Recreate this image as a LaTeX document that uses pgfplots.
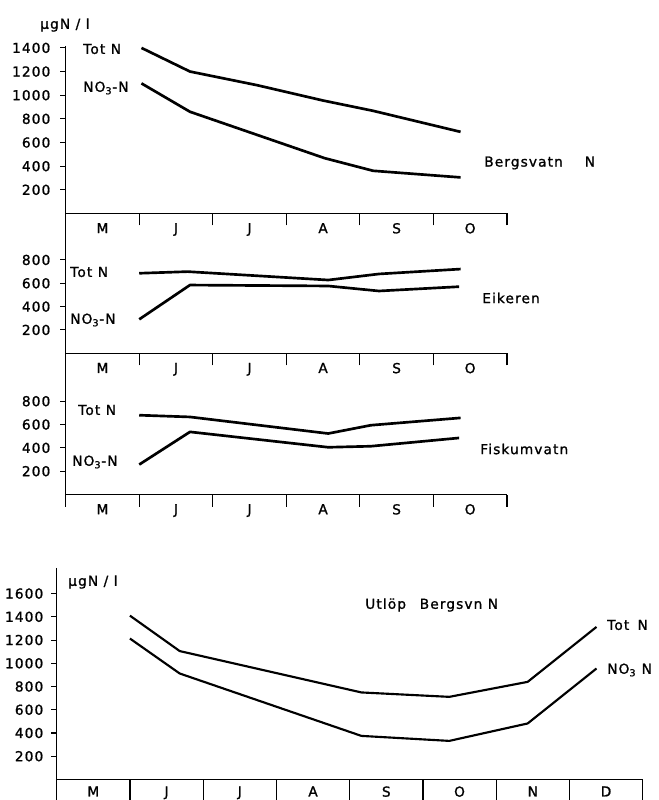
\documentclass[border=0pt]{standalone}
\usepackage{fontspec}
\setmainfont{DejaVu Sans}[LetterSpace=8, FakeBold=1.2]
\usepackage{pgfplots}
\pgfplotsset{compat=1.18}
\pgfplotsset{
  panel/.style={
    scale only axis, anchor=south west,
    xmin=0, ymin=0,
    axis lines=left, axis line style={-, line width=0.9pt},
    tick align=outside,
    major tick length=4pt, minor tick length=9pt,
    major x tick style={draw=none},
    minor x tick style={line width=0.9pt, black},
    y tick style={line width=0.8pt, black},
    tick label style={font=\fontsize{10.3}{12}\selectfont},
    /pgf/number format/assume math mode=true,
    /pgf/number format/1000 sep={},
    xticklabel style={yshift=0.3pt},
    yticklabel style={xshift=-4pt},
    clip=false,
  },
  dline/.style={black, line width=2pt, line join=round},
}
\begin{document}
\begin{tikzpicture}
\useasboundingbox (0,0) rectangle (494.25pt,600pt);

% Bergsvatn
\begin{axis}[panel, at={(49.28pt,439.88pt)}, width=330.9pt, height=124.2pt,
  xmax=6, ymax=1400,
  xtick={0.5,1.5,2.5,3.5,4.5,5.5}, xticklabels={M,J,J,A,S,O},
  minor xtick={1,2,3,4,5,6}, ytick={200,400,600,800,1000,1200,1400}]
\addplot[dline] coordinates {(1.03,1400) (1.69,1200) (2.6,1085) (3.5,955) (4.18,868) (5.37,690)};
\addplot[dline] coordinates {(1.03,1100) (1.69,860) (3.52,468) (4.18,361) (5.37,305)};
\end{axis}

% Eikeren
\begin{axis}[panel, at={(49.28pt,335.03pt)}, width=330.9pt, height=70.0pt,
  xmax=6, ymax=800,
  xtick={0.5,1.5,2.5,3.5,4.5,5.5}, xticklabels={M,J,J,A,S,O},
  minor xtick={1,2,3,4,5,6}, ytick={200,400,600,800}]
\addplot[dline] coordinates {(1.0,686) (1.66,700) (3.57,628) (4.26,680) (5.37,722)};
\addplot[dline] coordinates {(1.0,291) (1.69,585) (3.57,577) (4.26,534) (5.35,571)};
\end{axis}

% Fiskumvatn
\begin{axis}[panel, at={(49.28pt,229.1pt)}, width=330.9pt, height=70.0pt,
  xmax=6, ymax=800,
  xtick={0.5,1.5,2.5,3.5,4.5,5.5}, xticklabels={M,J,J,A,S,O},
  minor xtick={1,2,3,4,5,6}, ytick={200,400,600,800}]
\addplot[dline] coordinates {(1.0,680) (1.69,665) (3.57,523) (4.15,594) (5.37,657)};
\addplot[dline] coordinates {(1.0,257) (1.69,537) (3.57,405) (4.15,414) (5.35,485)};
\end{axis}

% Utlop Bergsvn
\begin{axis}[panel, at={(42.5pt,15.4pt)}, width=439.5pt, height=158.6pt,
  xmax=8, ymax=1820, minor tick length=15.4pt,
  xtick={0.5,1.5,2.5,3.5,4.5,5.5,6.5,7.5}, xticklabels={M,J,J,A,S,O,N,D},
  minor xtick={1,2,3,4,5,6,7,8}, ytick={200,400,600,800,1000,1200,1400,1600},
  xticklabel style={yshift=2pt}, yticklabel style={xshift=1.5pt}]
\addplot[dline, line width=1.6pt] coordinates {(1.0,1410) (1.68,1105) (4.16,749) (5.36,711) (6.43,840) (7.37,1313)};
\addplot[dline, line width=1.6pt] coordinates {(1.0,1213) (1.68,912) (4.16,375) (5.36,332) (6.43,482) (7.37,955)};
\end{axis}

\begin{scope}[x=0.75pt, y=-0.75pt, shift={(0pt,600pt)}, font=\fontsize{10.3}{12}\selectfont]
\draw[line width=0.9pt] (65.7,46) -- (65.7,507);
\draw[line width=0.9pt] (56.7,568) -- (56.7,800);
\node[anchor=west, inner sep=0] at (40,25) {µgN / l};
\node[anchor=west, inner sep=0] at (83,49) {Tot N};
\node[anchor=west, inner sep=0] at (83,88) {NO\textsubscript{3}-N};
\node[anchor=west, inner sep=0] at (484,163) {Bergsvatn\hspace{1.6em}N};
\node[anchor=west, inner sep=0] at (70,272) {Tot N};
\node[anchor=west, inner sep=0] at (70,320) {NO\textsubscript{3}-N};
\node[anchor=west, inner sep=0] at (482,298) {Eikeren};
\node[anchor=west, inner sep=0] at (78,410) {Tot N};
\node[anchor=west, inner sep=0] at (72,462) {NO\textsubscript{3}-N};
\node[anchor=west, inner sep=0] at (480,449) {Fiskumvatn};
\node[anchor=west, inner sep=0] at (68,582) {µgN / l};
\node[anchor=west, inner sep=0] at (365,605) {Utlöp\hspace{1em}Bergsvn N};
\node[anchor=west, inner sep=0] at (607,625) {Tot\hspace{0.6em}N};
\node[anchor=west, inner sep=0] at (607,670) {NO\textsubscript{3} N};
\end{scope}
\end{tikzpicture}
\end{document}
